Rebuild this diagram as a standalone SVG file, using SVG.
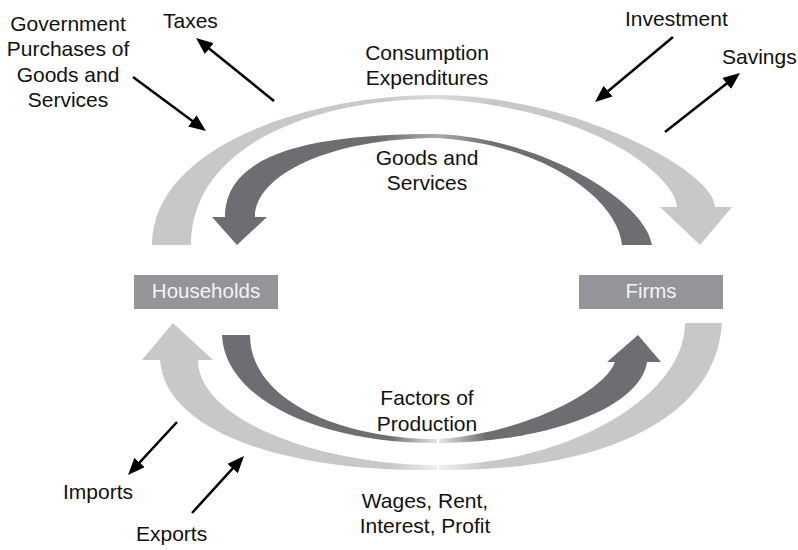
<svg xmlns="http://www.w3.org/2000/svg" width="798" height="550" viewBox="0 0 798 550">
<style>
.t{font-family:"Liberation Sans",Arial,sans-serif;font-size:21px;fill:#111}
.m{text-anchor:middle}
.bx{fill:#939598}
.bt{font-family:"Liberation Sans",Arial,sans-serif;font-size:20.5px;fill:#f4f4f4;text-anchor:middle}
.ar{stroke:#000;stroke-width:2.5;fill:none;marker-end:url(#ah)}
</style>
<defs>
<marker id="ah" markerUnits="userSpaceOnUse" markerWidth="17" markerHeight="14" refX="11" refY="7" orient="auto">
<path d="M0,0 L17,7 L0,14 Z" fill="#000"/>
</marker>
<linearGradient id="gLL" gradientUnits="userSpaceOnUse" x1="390" y1="0" x2="437" y2="0">
<stop offset="0" stop-color="#c7c8ca"/><stop offset="1" stop-color="#efeff0"/>
</linearGradient>
<linearGradient id="gLR" gradientUnits="userSpaceOnUse" x1="486" y1="0" x2="439" y2="0">
<stop offset="0" stop-color="#c7c8ca"/><stop offset="1" stop-color="#efeff0"/>
</linearGradient>
<linearGradient id="gDL" gradientUnits="userSpaceOnUse" x1="390" y1="0" x2="437" y2="0">
<stop offset="0" stop-color="#6d6e71"/><stop offset="1" stop-color="#e6e6e7"/>
</linearGradient>
<linearGradient id="gDR" gradientUnits="userSpaceOnUse" x1="486" y1="0" x2="439" y2="0">
<stop offset="0" stop-color="#6d6e71"/><stop offset="1" stop-color="#e6e6e7"/>
</linearGradient>
<linearGradient id="tLL" gradientUnits="userSpaceOnUse" x1="380" y1="0" x2="437" y2="0">
<stop offset="0" stop-color="#c7c8ca"/><stop offset="1" stop-color="#d9dadb"/>
</linearGradient>
<linearGradient id="tLR" gradientUnits="userSpaceOnUse" x1="494" y1="0" x2="437" y2="0">
<stop offset="0" stop-color="#c7c8ca"/><stop offset="1" stop-color="#d9dadb"/>
</linearGradient>
<linearGradient id="tDL" gradientUnits="userSpaceOnUse" x1="380" y1="0" x2="437" y2="0">
<stop offset="0" stop-color="#6d6e71"/><stop offset="1" stop-color="#a9aaac"/>
</linearGradient>
<linearGradient id="tDR" gradientUnits="userSpaceOnUse" x1="494" y1="0" x2="437" y2="0">
<stop offset="0" stop-color="#6d6e71"/><stop offset="1" stop-color="#a9aaac"/>
</linearGradient>
</defs>
<rect width="798" height="550" fill="#fff"/>

<g id="flows">
<g id="consumption-expenditures">
<path fill="url(#tLL)" d="M152,245 C152,150 300,95 437.5,95 L437.5,99 C305,99 191,150 191,245 Z"/>
<path fill="url(#tLR)" d="M437,95 C570,95 715,170 715,207 L732,207 L700,245 L660,207 L677,207 C677,180 600,109 437,99 Z"/>
</g>
<g id="goods-services">
<path fill="url(#tDL)" d="M437.5,134 C320,134 225,150 225,217 L212,217 L237,245 L267,217 L255,217 C255,175 330,138 437.5,138 Z"/>
<path fill="url(#tDR)" d="M437,134 C540,138 645,200 652,245 L622,245 C618,200 545,144 437,138 Z"/>
</g>
<g id="wages-flow">
<path fill="url(#gLL)" d="M173,323 L213,360 L198,360 C198,420 320,465 437,465 L437,470 C280,472 165,430 160,360 L142,360 Z"/>
<path fill="url(#gLR)" d="M439,470 C580,472 715,430 722,323 L685,323 C685,400 560,465 439,465 Z"/>
</g>
<g id="factors-flow">
<path fill="url(#gDL)" d="M222,335 C225,400 320,443 437,443 L437,439 C340,439 250,400 250,335 Z"/>
<path fill="url(#gDR)" d="M439,443 C540,443 640,410 647,362 L661,362 L638,335 L607,362 L615,362 C605,390 530,432 439,439 Z"/>
</g>
</g>

<g id="households">
<rect class="bx" x="134" y="275" width="144" height="34"/>
<text class="bt" x="206" y="298">Households</text>
</g>
<g id="firms">
<rect class="bx" x="579" y="275" width="144" height="34"/>
<text class="bt" x="651" y="298">Firms</text>
</g>

<g id="connectors">
<line class="ar" x1="133" y1="77" x2="201.2" y2="127.4"/>
<line class="ar" x1="274" y1="101" x2="200.7" y2="41.8"/>
<line class="ar" x1="673" y1="37" x2="599.6" y2="98.2"/>
<line class="ar" x1="665" y1="132" x2="735.3" y2="76.7"/>
<line class="ar" x1="177" y1="422" x2="132.1" y2="470.6"/>
<line class="ar" x1="192" y1="513" x2="240" y2="460.4"/>
</g>

<g id="labels">
<text class="t m" x="427" y="60">Consumption</text>
<text class="t m" x="427" y="85">Expenditures</text>
<text class="t m" x="427" y="165">Goods and</text>
<text class="t m" x="427" y="190">Services</text>
<text class="t m" x="427" y="405">Factors of</text>
<text class="t m" x="427" y="431">Production</text>
<text class="t m" x="425" y="508">Wages, Rent,</text>
<text class="t m" x="425" y="533">Interest, Profit</text>
<text class="t m" x="68" y="31">Government</text>
<text class="t m" x="68" y="56">Purchases of</text>
<text class="t m" x="68" y="82">Goods and</text>
<text class="t m" x="68" y="107">Services</text>
<text class="t" x="163" y="28">Taxes</text>
<text class="t" x="625" y="26">Investment</text>
<text class="t" x="722" y="64">Savings</text>
<text class="t" x="63" y="499">Imports</text>
<text class="t" x="136" y="541">Exports</text>
</g>
</svg>
